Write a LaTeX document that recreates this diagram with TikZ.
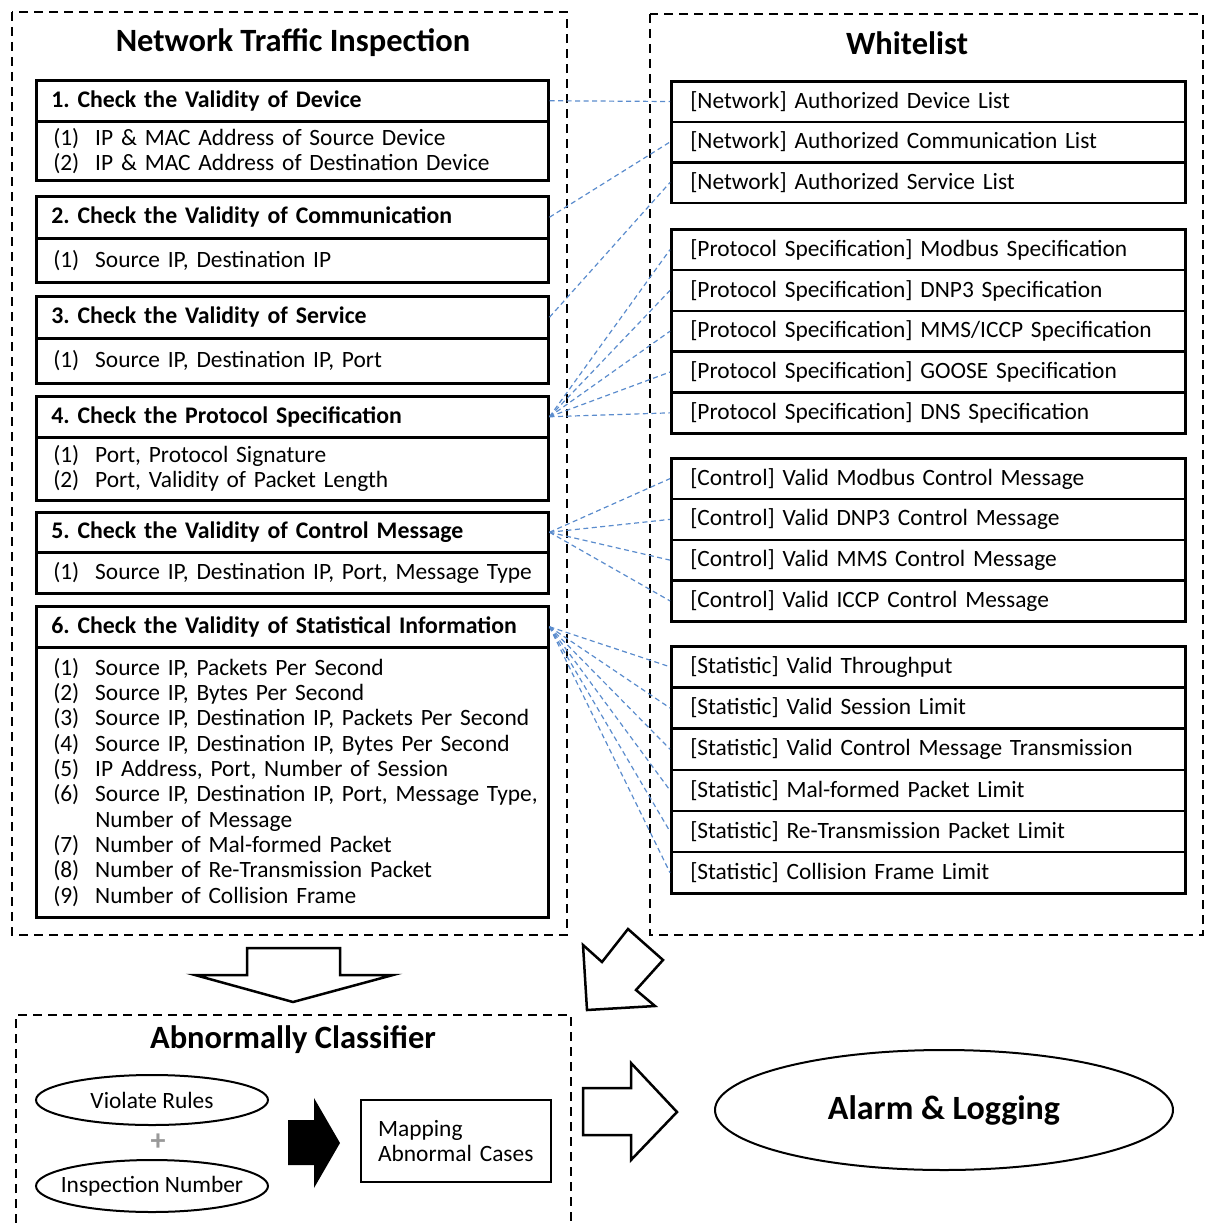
\documentclass[tikz,border=0pt]{standalone}
\usepackage{fontspec}
\setmainfont{Carlito}
\usetikzlibrary{shapes.geometric}
\definecolor{linkblue}{RGB}{91,140,205}
\newcommand\itm[2]{\mbox{\makebox[42pt][l]{#1}#2}}
\newcommand\bodyfnt{\fontsize{23.4}{25.3}\selectfont}
\newcommand\hdrfnt{\fontsize{23.8}{24}\selectfont\bfseries}
\newcommand\titlefnt{\fontsize{32.5}{34}\selectfont\bfseries}
\frenchspacing
\begin{document}
\begin{tikzpicture}[x=1pt,y=-1pt,
  dashbox/.style={draw, line width=2pt, dash pattern=on 9pt off 6pt},
  solidbox/.style={draw, line width=2.5pt, rectangle, anchor=north west, align=left},
  hdr/.style={solidbox, minimum width=512pt, text width=482pt, inner xsep=15pt, font=\hdrfnt},
  body/.style={solidbox, minimum width=512pt, text width=478pt, inner xsep=17pt, font=\bodyfnt},
  wrow/.style={solidbox, minimum width=514pt, text width=476pt, inner xsep=19pt, font=\bodyfnt},
  link/.style={draw=linkblue, line width=1.2pt, dash pattern=on 5pt off 3.5pt},
  title/.style={font=\titlefnt, inner sep=0pt},
  oval/.style={ellipse, draw, line width=2pt, inner sep=0pt, font=\bodyfnt},
  blockarrow/.style={draw, line width=2.5pt, line join=miter, fill=white}
]
\useasboundingbox (0,0) rectangle (1205,1223);

% outer dashed boxes
\draw[dashbox] (12,12) rectangle (567,935);
\draw[dashbox] (650,14) rectangle (1203,935);
\draw[dashbox] (16,1223) -- (16,1015) -- (571,1015) -- (571,1223);

% titles
\node (t1) [title] at (293,43) {Network Traffic Inspection};
\node (t2) [title] at (907,43) {Whitelist};
\node (t3) [title] at (293,1040) {Abnormally Classifier};

% left inspection boxes
\node (h1) [hdr, minimum height=41pt] at (35,79) {1. Check the Validity of Device};
\node (b1) [body, minimum height=59pt] at (35,120) {\itm{(1)}{IP \& MAC Address of Source Device}\\\itm{(2)}{IP \& MAC Address of Destination Device}};
\node (h2) [hdr, minimum height=42pt] at (35,195) {2. Check the Validity of Communication};
\node (b2) [body, minimum height=44pt] at (35,237) {\itm{(1)}{Source IP, Destination IP}};
\node (h3) [hdr, minimum height=42pt] at (35,295) {3. Check the Validity of Service};
\node (b3) [body, minimum height=45pt] at (35,337) {\itm{(1)}{Source IP, Destination IP, Port}};
\node (h4) [hdr, minimum height=41pt] at (35,395) {4. Check the Protocol Specification};
\node (b4) [body, minimum height=63pt] at (35,436) {\itm{(1)}{Port, Protocol Signature}\\\itm{(2)}{Port, Validity of Packet Length}};
\node (h5) [hdr, minimum height=40pt] at (35,511) {5. Check the Validity of Control Message};
\node (b5) [body, minimum height=41pt] at (35,551) {\itm{(1)}{Source IP, Destination IP, Port, Message Type}};
\node (h6) [hdr, minimum height=41pt] at (35,605) {6. Check the Validity of Statistical Information};
\node (b6) [body, minimum height=270pt] at (35,646) {\itm{(1)}{Source IP, Packets Per Second}\\
\itm{(2)}{Source IP, Bytes Per Second}\\
\itm{(3)}{Source IP, Destination IP, Packets Per Second}\\
\itm{(4)}{Source IP, Destination IP, Bytes Per Second}\\
\itm{(5)}{IP Address, Port, Number of Session}\\
\itm{(6)}{Source IP, Destination IP, Port, Message Type,}\\
\itm{}{Number of Message}\\
\itm{(7)}{Number of Mal-formed Packet}\\
\itm{(8)}{Number of Re-Transmission Packet}\\
\itm{(9)}{Number of Collision Frame}};

% whitelist rows
\node (w1) [wrow, minimum height=40.5pt] at (670,80) {[Network] Authorized Device List};
\node (w2) [wrow, minimum height=40.5pt] at (670,120.5) {[Network] Authorized Communication List};
\node (w3) [wrow, minimum height=40.5pt] at (670,161) {[Network] Authorized Service List};

\node (w4) [wrow, minimum height=40.8pt] at (670,228) {[Protocol Specification] Modbus Specification};
\node (w5) [wrow, minimum height=40.8pt] at (670,268.8) {[Protocol Specification] DNP3 Specification};
\node (w6) [wrow, minimum height=40.8pt] at (670,309.6) {[Protocol Specification] MMS/ICCP Specification};
\node (w7) [wrow, minimum height=40.8pt] at (670,350.4) {[Protocol Specification] GOOSE Specification};
\node (w8) [wrow, minimum height=40.8pt] at (670,391.2) {[Protocol Specification] DNS Specification};

\node (w9) [wrow, minimum height=40.75pt] at (670,457) {[Control] Valid Modbus Control Message};
\node (w10) [wrow, minimum height=40.75pt] at (670,497.75) {[Control] Valid DNP3 Control Message};
\node (w11) [wrow, minimum height=40.75pt] at (670,538.5) {[Control] Valid MMS Control Message};
\node (w12) [wrow, minimum height=40.75pt] at (670,579.25) {[Control] Valid ICCP Control Message};

\node (w13) [wrow, minimum height=41.17pt] at (670,645) {[Statistic] Valid Throughput};
\node (w14) [wrow, minimum height=41.17pt] at (670,686.17) {[Statistic] Valid Session Limit};
\node (w15) [wrow, minimum height=41.17pt] at (670,727.33) {[Statistic] Valid Control Message Transmission};
\node (w16) [wrow, minimum height=41.17pt] at (670,768.5) {[Statistic] Mal-formed Packet Limit};
\node (w17) [wrow, minimum height=41.17pt] at (670,809.67) {[Statistic] Re-Transmission Packet Limit};
\node (w18) [wrow, minimum height=41.17pt] at (670,850.83) {[Statistic] Collision Frame Limit};

% connectors
\draw[link] (h1.east) -- (w1.west);
\draw[link] (h2.east) -- (w2.west);
\draw[link] (h3.east) -- (w3.west);
\foreach \w in {w4,w5,w6,w7,w8} \draw[link] (h4.east) -- (\w.west);
\foreach \w in {w9,w10,w11,w12} \draw[link] (h5.east) -- (\w.west);
\foreach \w in {w13,w14,w15,w16,w17,w18} \draw[link] (h6.east) -- (\w.west);

% block arrows
\draw[blockarrow] (247,948) -- (340,948) -- (340,975) -- (393,975) -- (293,1002) -- (195,975) -- (247,975) -- cycle;
\draw[blockarrow] (583,945) -- (602,962) -- (628,929) -- (663,960) -- (636,990) -- (655,1006) -- (587,1010) -- cycle;
\draw[blockarrow] (583,1088) -- (631,1088) -- (631,1063) -- (677,1112) -- (631,1160) -- (631,1135) -- (583,1135) -- cycle;
\fill[black] (288,1120) -- (314,1120) -- (314,1098) -- (340,1143) -- (314,1188) -- (314,1165) -- (288,1165) -- cycle;

% classifier contents
\node (vr) [oval, minimum width=232pt, minimum height=50pt] at (152,1100) {\makebox[0pt]{Violate Rules}};
\node (plus) [text=gray!80, font=\fontsize{30}{30}\selectfont\bfseries, inner sep=0pt] at (158,1142) {+};
\node (in) [oval, minimum width=232pt, minimum height=52pt] at (152,1186) {\makebox[0pt]{Inspection Number}};
\node (map) [solidbox, line width=2.2pt, minimum width=190pt, minimum height=82pt, text width=156pt, inner xsep=17pt, font=\bodyfnt] at (360,1099) {\mbox{Mapping}\\\mbox{Abnormal Cases}};

\node (alarm) [ellipse, draw, line width=2pt, minimum width=458pt, minimum height=120pt, font=\fontsize{34}{34}\selectfont\bfseries] at (944,1110) {\makebox[0pt]{Alarm \& Logging}};
\end{tikzpicture}
\end{document}
